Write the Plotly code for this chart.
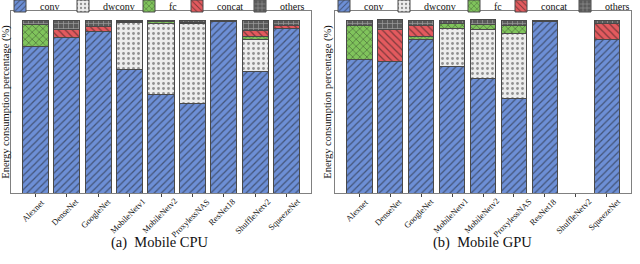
import plotly.graph_objects as go

models = ["Alexnet", "DenseNet", "GoogleNet", "MobileNetv1", "MobileNetv2",
          "ProxylessNAS", "ResNet18", "ShuffleNetv2", "SqueezeNet"]

# Mobile CPU (%)
cpu_conv   = [84.6, 90.0, 93.3, 71.5, 57.0, 51.5, 99.4, 70.2, 94.8]
cpu_dwconv = [0.0,  0.0,  0.0,  26.9, 40.8, 46.2, 0.0,  18.3, 0.0]
cpu_fc     = [13.0, 0.0,  0.0,  1.0,  1.1,  1.1,  0.0,  1.9,  0.0]
cpu_concat = [0.0,  4.6,  2.9,  0.0,  0.0,  0.0,  0.0,  3.3,  2.3]
cpu_others = [2.4,  5.4,  3.8,  0.6,  1.1,  1.2,  0.6,  6.3,  2.9]

# Mobile GPU (%)
gpu_conv   = [77.3, 76.2, 88.8, 73.1, 66.2, 54.8, 99.4, 0.0, 88.5]
gpu_dwconv = [0.0,  0.0,  0.0,  22.1, 28.1, 37.5, 0.0,  0.0, 0.0]
gpu_fc     = [19.8, 0.0,  1.9,  2.5,  3.3,  4.4,  0.0,  0.0, 0.0]
gpu_concat = [0.0,  18.5, 6.0,  0.0,  0.0,  0.0,  0.0,  0.0, 9.2]
gpu_others = [2.9,  5.4,  3.3,  2.3,  2.5,  3.3,  0.6,  0.0, 2.3]

series_names = ["conv", "dwconv", "fc", "concat", "others"]
colors = ["#6d8fd6", "#ececec", "#80c45c", "#e35a5e", "#5a5a5a"]
shapes = ["/", ".", "x", "\\", "+"]
fgcolors = ["#1a1a1a", "#333333", "#1a1a1a", "#1a1a1a", "#e0e0e0"]

cpu = [cpu_conv, cpu_dwconv, cpu_fc, cpu_concat, cpu_others]
gpu = [gpu_conv, gpu_dwconv, gpu_fc, gpu_concat, gpu_others]

SERIF = "Liberation Serif, Times New Roman, serif"

# left edge (px) of each legend entry, one entry per legend box
legend_left_px = [[0, 63, 129, 177, 240], [324, 384, 454, 501, 565]]

fig = go.Figure()
x_idx = list(range(len(models)))
legend_layout = {}
for panel, (data, xa, ya) in enumerate([(cpu, "x", "y"), (gpu, "x2", "y2")]):
    for i, name in enumerate(series_names):
        n = panel * 5 + i + 1
        lg = "legend" if n == 1 else f"legend{n}"
        legend_layout[lg] = dict(
            orientation="h", x=legend_left_px[panel][i] / 640, y=(264 - 6) / 264,
            xanchor="left", yanchor="middle", font=dict(family=SERIF, size=10),
            bgcolor="rgba(0,0,0,0)", itemwidth=30)
        fig.add_trace(go.Bar(
            x=x_idx, y=data[i], name=name, xaxis=xa, yaxis=ya, legend=lg,
            width=0.83, showlegend=True,
            marker=dict(color=colors[i],
                        line=dict(color="#4a4a4a", width=1),
                        pattern=dict(shape=shapes[i], fgcolor=fgcolors[i],
                                     size=5, solidity=0.25)),
            hoverinfo="skip",
        ))

fig.update_layout(
    barmode="stack",
    showlegend=True,
    width=640, height=264,
    margin=dict(l=0, r=0, t=0, b=0, autoexpand=False),
    plot_bgcolor="white", paper_bgcolor="white",
    font=dict(family=SERIF, size=9, color="#111"),
    **legend_layout,
)

ydom = [71 / 264, 253 / 264]
xcommon = dict(tickmode="array", tickvals=x_idx, ticktext=[""] * len(models),
               range=[-0.78, 8.78], showline=True, mirror=True, linecolor="#808080",
               linewidth=1, ticks="outside", ticklen=3, tickcolor="#444",
               showgrid=False, zeroline=False, automargin=False)
ycommon = dict(range=[0, 105.2], showticklabels=False, ticks="", showgrid=False,
               zeroline=False, showline=True, mirror=True, linecolor="#808080", linewidth=1,
               automargin=False,
               title=dict(text="Energy consumption percentage (%)",
                          font=dict(family=SERIF, size=10.5), standoff=0))
fig.update_layout(
    xaxis=dict(domain=[11 / 640, 311 / 640], anchor="y", **xcommon),
    yaxis=dict(domain=ydom, anchor="x", **ycommon),
    xaxis2=dict(domain=[335 / 640, 631 / 640], anchor="y2", **xcommon),
    yaxis2=dict(domain=ydom, anchor="x2", **ycommon),
)

# category labels, rotated and centred under each bar
for xref in ["x", "x2"]:
    for i, m in enumerate(models):
        fig.add_annotation(text=m, x=i, xref=xref, y=(264 - 195) / 264, yref="paper",
                           textangle=-45, xanchor="center", yanchor="top", showarrow=False,
                           xshift=-2, borderpad=0,
                           font=dict(family=SERIF, size=8.5, color="#111"))

fig.add_annotation(text="(a)  Mobile CPU", x=160 / 640, y=(264 - 242) / 264, xref="paper", yref="paper",
                   showarrow=False, font=dict(family=SERIF, size=14.5), xanchor="center", yanchor="middle")
fig.add_annotation(text="(b)  Mobile GPU", x=482 / 640, y=(264 - 242) / 264, xref="paper", yref="paper",
                   showarrow=False, font=dict(family=SERIF, size=14.5), xanchor="center", yanchor="middle")

fig.write_html("out.html", config={"displayModeBar": False},
               post_script="document.body.style.margin='0';")
